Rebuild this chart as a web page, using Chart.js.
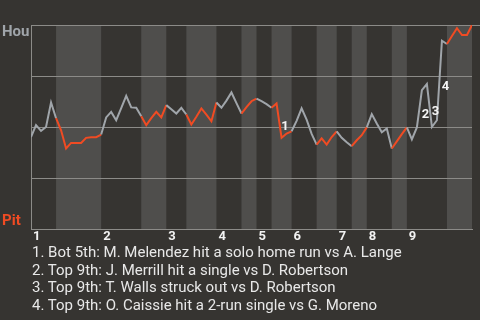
<!DOCTYPE html>
<html>
<head>
<meta charset="utf-8">
<script src="https://cdn.jsdelivr.net/npm/chart.js@4.4.1/dist/chart.umd.min.js"></script>
<style>
  html, body { margin: 0; padding: 0; background: #363431; }
  #wrap { position: relative; width: 480px; height: 320px; overflow: hidden; }
  #wp { position: absolute; left: 0; top: 0; }
  #notes {
    position: absolute; left: 32px; top: 244px;
    font: 15px Roboto, sans-serif; line-height: 17.6px; color: #e8e8e8;
    white-space: nowrap;
  }
</style>
</head>
<body>
<div id="wrap">
  <canvas id="wp" width="480" height="320"></canvas>
  <div id="notes"></div>
</div>
<script>
// Inning numbers shown under the plot
const innings = ['1', '2', '3', '4', '5', '6', '7', '8', '9'];
// Play index where each half-inning begins (top 1st, bottom 1st, top 2nd, ...)
const halfInningStarts = [0, 5, 14, 22, 27, 31, 37, 42, 45, 48, 52, 57, 61, 64, 67, 72, 75, 83];
const lastPlay = 88;
// Houston win probability (%) after each play
const winProbHou = [
  45.2, 51.0, 48.2, 50.1, 62.1, 54.4, 48.5, 39.6, 42.3, 42.3,
  42.3, 44.8, 45.1, 45.1, 46.4, 54.8, 57.5, 53.4, 59.3, 65.3,
  59.7, 59.5, 55.4, 51.0, 54.4, 57.5, 54.8, 60.8, 58.8, 56.7,
  59.5, 56.2, 51.3, 55.1, 59.2, 56.1, 52.9, 62.1, 59.5, 63.0,
  67.0, 61.8, 56.7, 59.8, 62.7, 64.0, 62.7, 61.3, 59.5, 61.6,
  44.8, 46.9, 48.0, 53.1, 59.2, 53.7, 46.7, 41.5, 44.5, 41.5,
  45.2, 48.0, 44.8, 42.6, 40.7, 43.6, 46.1, 49.9, 56.4, 51.8,
  47.5, 49.4, 39.6, 43.1, 46.6, 49.9, 44.0, 49.9, 68.1, 71.1,
  50.1, 53.4, 92.3, 90.7, 94.6, 98.4, 95.1, 95.1, 100.0
];
// Key plays: index of the play's resulting point, and its description
const eventPlays = [50, 78, 80, 82];
const eventTexts = [
  'Bot 5th: M. Melendez hit a solo home run vs A. Lange',
  'Top 9th: J. Merrill hit a single vs D. Robertson',
  'Top 9th: T. Walls struck out vs D. Robertson',
  'Top 9th: O. Caissie hit a 2-run single vs G. Moreno'
];
const teams = { top: 'Hou', bottom: 'Pit' };

const BG = '#363431';
const BAND = '#4f4e4c';
const GRID = '#8c8b88';
const HOU_COLOR = '#a0a5aa';
const PIT_COLOR = '#f04b23';
const FONT = 'Roboto, sans-serif';

function halfIndexOf(play) {
  let k = 0;
  for (let j = 0; j < halfInningStarts.length; j++) {
    if (play >= halfInningStarts[j]) k = j;
  }
  return k;
}

// Background and shading for bottom halves of innings
const bandsPlugin = {
  id: 'bands',
  beforeDraw(chart) {
    const { ctx, chartArea: a, scales: { x } } = chart;
    ctx.save();
    ctx.fillStyle = BG;
    ctx.fillRect(0, 0, chart.width, chart.height);
    ctx.fillStyle = BAND;
    for (let j = 1; j < halfInningStarts.length; j += 2) {
      const s = halfInningStarts[j];
      const e = j + 1 < halfInningStarts.length ? halfInningStarts[j + 1] : lastPlay;
      const x0 = x.getPixelForValue(s);
      const x1 = x.getPixelForValue(e);
      ctx.fillRect(x0, a.top, x1 - x0, a.bottom - a.top);
    }
    ctx.restore();
  },
  afterDraw(chart) {
    const { ctx, chartArea: a, scales: { x, y } } = chart;
    ctx.save();
    // top rule runs to the edge
    ctx.strokeStyle = GRID;
    ctx.lineWidth = 1;
    const yt = Math.round(y.getPixelForValue(100)) + 0.5;
    ctx.beginPath();
    ctx.moveTo(a.right, yt);
    ctx.lineTo(chart.width, yt);
    ctx.stroke();

    // team labels
    ctx.font = 'bold 15px ' + FONT;
    ctx.textAlign = 'left';
    ctx.textBaseline = 'alphabetic';
    ctx.fillStyle = HOU_COLOR;
    ctx.fillText(teams.top, 2, y.getPixelForValue(100) + 11);
    ctx.fillStyle = PIT_COLOR;
    ctx.fillText(teams.bottom, 2, y.getPixelForValue(0) - 4);

    // key play numbers beside the play's segment
    ctx.font = 'bold 13px ' + FONT;
    ctx.textAlign = 'center';
    ctx.textBaseline = 'middle';
    ctx.fillStyle = '#f5f5f5';
    eventPlays.forEach((p, i) => {
      const mx = (x.getPixelForValue(p - 1) + x.getPixelForValue(p)) / 2;
      const my = (y.getPixelForValue(winProbHou[p - 1]) + y.getPixelForValue(winProbHou[p])) / 2;
      ctx.fillText(String(i + 1), mx + 6, my + 6);
    });
    ctx.restore();
  }
};

document.getElementById('notes').innerHTML =
  eventTexts.map((t, i) => '<div>' + (i + 1) + '. ' + t + '</div>').join('');

new Chart(document.getElementById('wp'), {
  type: 'line',
  data: {
    datasets: [{
      data: winProbHou.map((v, i) => ({ x: i, y: v })),
      borderWidth: 2,
      borderColor: HOU_COLOR,
      pointRadius: 0,
      tension: 0,
      fill: false,
      segment: {
        borderColor: c => (halfIndexOf(c.p0DataIndex) % 2 === 1 ? PIT_COLOR : HOU_COLOR)
      }
    }]
  },
  options: {
    responsive: false,
    animation: false,
    devicePixelRatio: 1,
    layout: { padding: { left: 31, top: 25, right: 8, bottom: 75 } },
    plugins: { legend: { display: false }, tooltip: { enabled: false } },
    scales: {
      x: {
        type: 'linear',
        min: 0,
        max: lastPlay,
        grid: { display: false, drawTicks: false },
        border: { display: true, color: GRID, width: 1 },
        afterBuildTicks: scale => {
          scale.ticks = innings.map((_, k) => ({ value: halfInningStarts[2 * k] }));
        },
        ticks: {
          autoSkip: false,
          maxRotation: 0,
          align: 'start',
          labelOffset: 2,
          padding: 0,
          color: '#f2f2f2',
          font: { family: FONT, size: 13, weight: 'bold' },
          callback: (value, index) => innings[index]
        }
      },
      y: {
        min: 0,
        max: 100,
        grid: { color: GRID, drawTicks: false, lineWidth: 1 },
        border: { display: true, color: GRID, width: 1 },
        ticks: { display: false, stepSize: 25 }
      }
    }
  },
  plugins: [bandsPlugin]
});
</script>
</body>
</html>
